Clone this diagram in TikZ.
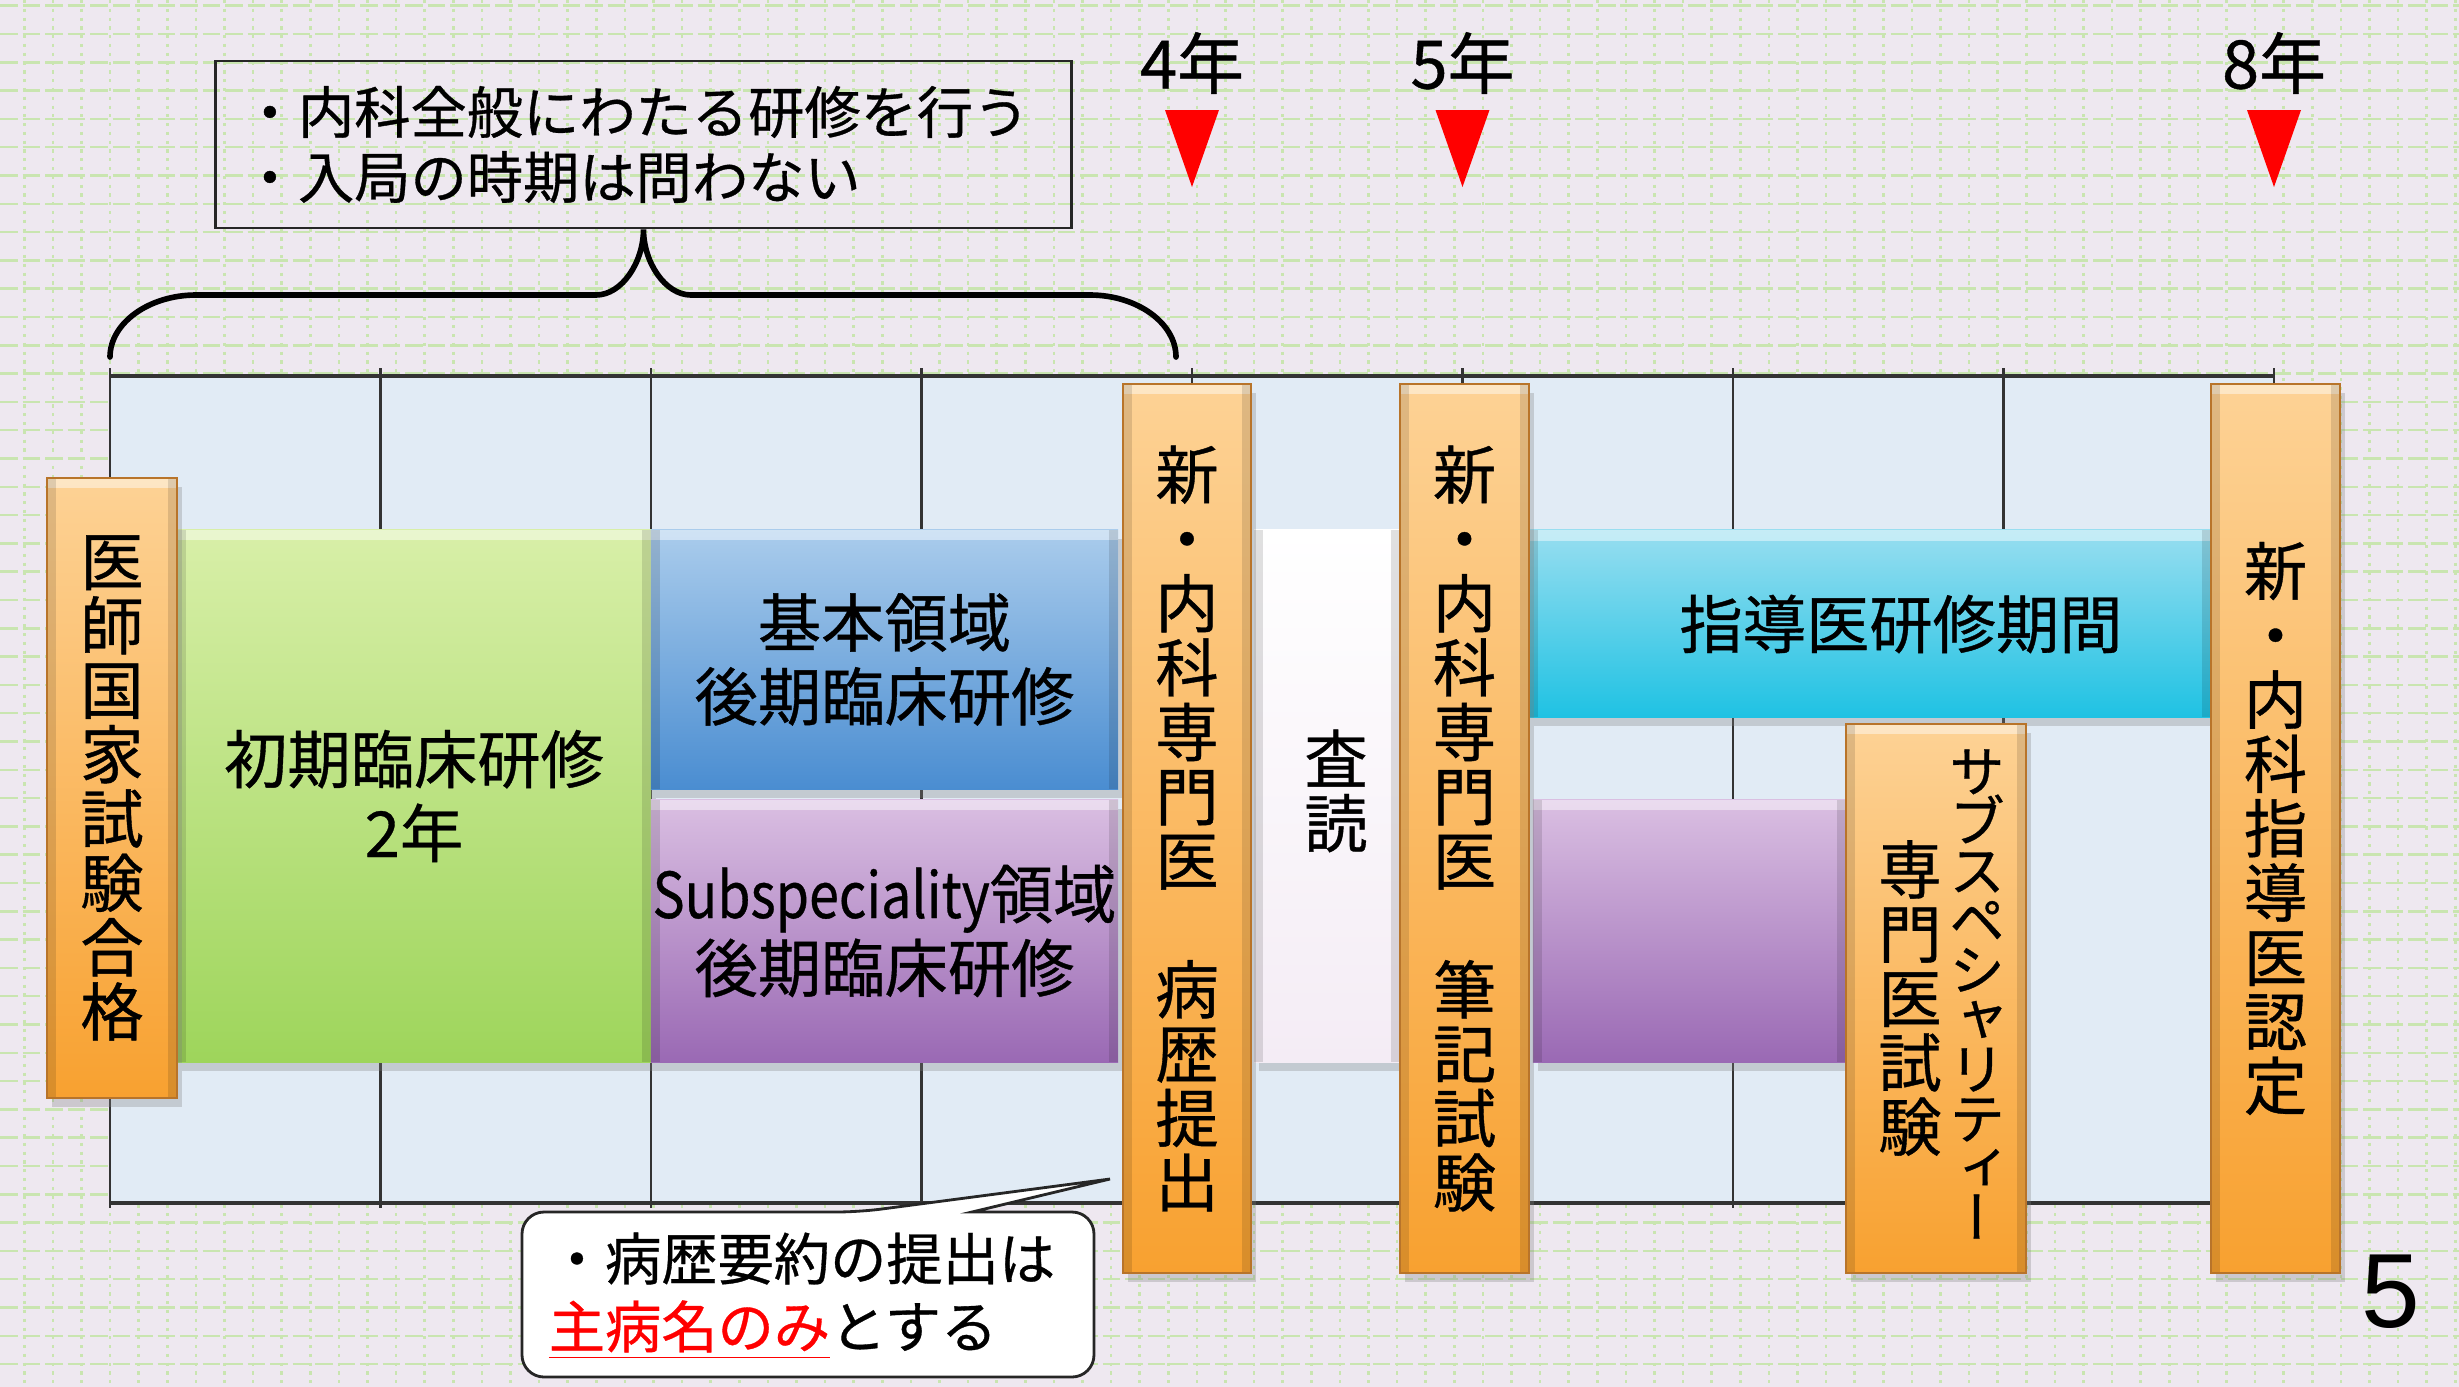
\documentclass[tikz,border=0pt]{standalone}
\usepackage{fontspec}
\setmainfont{Noto Sans CJK JP}[FakeBold=0.6]
\newfontfamily\tatefont{Noto Sans CJK JP}[RawFeature=+vert, FakeBold=0.6]
\newfontfamily\pagefont{Liberation Sans}
\usetikzlibrary{positioning}
\usetikzlibrary{calc}
\usetikzlibrary{shadows}
\newcommand\tightskip{\lineskiplimit=-100pt\relax}

\definecolor{bgpaper}{HTML}{EEE8F0}
\definecolor{bgdot}{HTML}{C9E5B0}
\definecolor{gridfill}{HTML}{E1EBF5}
\definecolor{orangetop}{HTML}{FDD295}
\definecolor{orangebot}{HTML}{F8A130}
\definecolor{orangeedge}{HTML}{B8742A}
\definecolor{greentop}{HTML}{D8EFA8}
\definecolor{greenbot}{HTML}{9ED55B}
\definecolor{bluetop}{HTML}{AACCEC}
\definecolor{bluebot}{HTML}{4A8DD1}
\definecolor{purpletop}{HTML}{DABFE2}
\definecolor{purplebot}{HTML}{9A69B4}
\definecolor{cyantop}{HTML}{98DEF0}
\definecolor{cyanbot}{HTML}{1FC2E3}
\definecolor{readfill}{HTML}{F4ECF5}
\definecolor{markred}{HTML}{FF0000}

\tikzset{
  hdots/.style={bgdot, line width=0.7pt, dash pattern=on 5pt off 1.4pt},
  vdots/.style={bgdot, line width=0.7pt, dash pattern=on 0.9pt off 1.6pt},
  gridline/.style={black!80, line width=0.6pt},
  bevel/.style={path picture={
    \fill[white, opacity=.45] (path picture bounding box.north west)
      rectangle ([yshift=-3pt]path picture bounding box.north east);
    \fill[black, opacity=.12] (path picture bounding box.south west)
      rectangle ([xshift=2.5pt]path picture bounding box.north west);
    \fill[black, opacity=.12] (path picture bounding box.south east)
      rectangle ([xshift=-2.5pt]path picture bounding box.north east);}},
  block/.style={inner sep=0pt, align=center, bevel,
    drop shadow={shadow xshift=1.5pt, shadow yshift=-2.5pt, opacity=.3},
    font=\fontsize{18}{21}\selectfont},
  obar/.style={block, top color=orangetop, bottom color=orangebot,
    draw=orangeedge, line width=0.5pt,
    font=\tatefont\fontsize{18}{18.3}\selectfont},
  tate/.style={inner sep=0pt, align=center,
    font=\tatefont\fontsize{18}{18.3}\selectfont},
  introbox/.style={draw=black!85, line width=0.8pt, align=left,
    text width=8.03cm, inner xsep=0.26cm, minimum height=1.67cm,
    font=\fontsize{16}{18.5}\selectfont},
  memobox/.style={draw=black!85, fill=white, line width=0.8pt},
  yearlabel/.style={inner sep=0pt, font=\fontsize{19}{19}\selectfont},
  bracepath/.style={line width=1.6pt, line cap=round},
  redmark/.style={fill=markred}
}

\begin{document}
\begin{tikzpicture}[x=0.01cm, y=-0.01cm]
  \useasboundingbox (0,0) rectangle (2459,1387);
  % paper with dotted grid
  \fill[bgpaper] (0,0) rectangle (2459,1387);
  \foreach \i in {0,...,48}
    \draw[hdots] (0,5.7+28.3*\i) -- (2459,5.7+28.3*\i);
  \foreach \i in {0,...,85}
    \draw[vdots] (24.3+28.6*\i,0) -- (24.3+28.6*\i,1387);

  % time axis
  \fill[gridfill] (110,376) rectangle (2274,1203);
  \foreach \k in {0,...,8}
    \draw[gridline] (110+270.5*\k,368) -- (110+270.5*\k,1208);
  \draw[gridline, line width=1.3pt] (110,376) -- (2274,376);
  \draw[gridline, line width=1.3pt] (110,1203) -- (2274,1203);

  % years
  \foreach \x/\yr [count=\n] in {1192/4, 1462.5/5, 2274/8} {
    \node[yearlabel] (year\n) at (\x,63) {\yr 年};
    \fill[redmark] (\x-27,110) -- (\x+27,110) -- (\x,187) -- cycle;
  }

  % training blocks
  \node[block, top color=greentop, bottom color=greenbot,
        minimum width=4.74cm, minimum height=5.32cm] (shoki) at (414,796)
        {初期臨床研修\\2年};
  \node[block, top color=bluetop, bottom color=bluebot,
        minimum width=4.67cm, minimum height=2.59cm] (kihon) at (884.5,659.5)
        {基本領域\\後期臨床研修};
  \node[block, top color=purpletop, bottom color=purplebot,
        minimum width=4.67cm, minimum height=2.62cm] (subsp) at (884.5,931)
        {\scalebox{0.85}[1]{Subspeciality}領域\\後期臨床研修};
  \node[block, top color=white, bottom color=readfill,
        minimum width=1.46cm, minimum height=5.32cm] (sadoku) at (1327,796) {};
  \node[tate] (sadokuT) at (1336,791) {査\\読};
  \node[block, top color=cyantop, bottom color=cyanbot,
        minimum width=6.82cm, minimum height=1.87cm] (shido) at (1870,623.5) {};
  \node[inner sep=0pt, font=\fontsize{18}{21}\selectfont] (shidoT) at (1901,624) {指導医研修期間};
  \node[block, top color=purpletop, bottom color=purplebot,
        minimum width=3.13cm, minimum height=2.62cm] (subsp2) at (1689.5,931) {};

  % exams and milestones
  \node[obar, minimum width=1.30cm, minimum height=6.20cm] (exam) at (112,788)
        {医\\師\\国\\家\\試\\験\\合\\格};
  \node[obar, minimum width=1.28cm, minimum height=8.89cm] (byoreki) at (1187,828.5)
        {新\\・\\内\\科\\専\\門\\医\\[18.3pt]病\\歴\\提\\出};
  \node[obar, minimum width=1.29cm, minimum height=8.89cm] (hikki) at (1464.5,828.5)
        {新\\・\\内\\科\\専\\門\\医\\[18.3pt]筆\\記\\試\\験};
  \node[obar, minimum width=1.80cm, minimum height=5.49cm] (subexam) at (1936,998.5) {};
  \node[tate] (subexamL) at (1910,998) {専\\門\\医\\試\\験};
  \node[tate, font={\tatefont\fontsize{16}{14.1}\selectfont\tightskip}]
        (subexamR) at (1977,994) {サ\\ブ\\ス\\ペ\\シ\\ャ\\リ\\テ\\ィ\\ー};
  \node[obar, minimum width=1.29cm, minimum height=8.89cm] (nintei) at (2275.5,828.5)
        {新\\・\\内\\科\\指\\導\\医\\認\\定};

  % note and brace
  \node[introbox] (intro) at (643.5,144.5)
        {・内科全般にわたる研修を行う\\・入局の時期は問わない};
  \coordinate (braceL) at (110,357);
  \coordinate (braceR) at (1176,357);
  \draw[bracepath] (braceL) .. controls (110,323) and (149,295) .. (196,295)
        -- (596,295) .. controls (622,295) and (643.5,262) .. (intro.south)
        .. controls (643.5,262) and (665,295) .. (691,295)
        -- (1090,295) .. controls (1137,295) and (1176,323) .. (braceR);

  % callout
  \coordinate (memotip) at (1110,1179);
  \draw[memobox] (972,1212) [rounded corners=0.22cm] -- (1094,1212) -- (1094,1377)
        -- (522,1377) -- (522,1212) -- (859,1212) [sharp corners] -- (memotip) -- cycle;
  \node[inner sep=0pt, align=left, font=\fontsize{16}{19.3}\selectfont] (memo) at (802,1296)
        {・病歴要約の提出は\\\textcolor{markred}{\underline{主病名のみ}}とする};

  \node[inner sep=0pt, font=\pagefont\fontsize{30}{30}\selectfont] (pageno) at (2391,1292) {5};
\end{tikzpicture}
\end{document}
